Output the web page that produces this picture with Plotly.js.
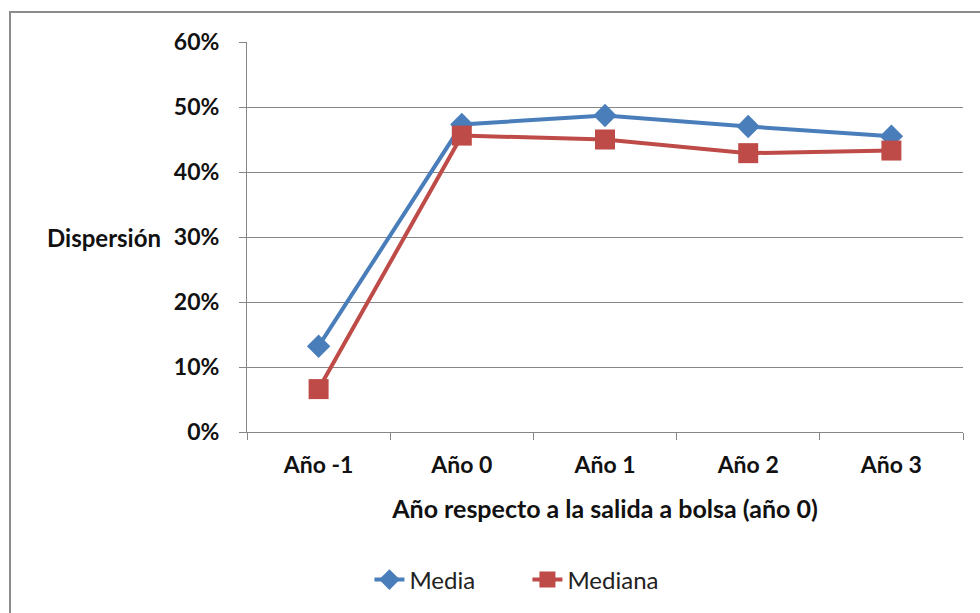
<!DOCTYPE html>
<html>
<head>
<meta charset="utf-8">
<script src="https://cdn.plot.ly/plotly-3.0.1.min.js"></script>
<style>
html,body{margin:0;padding:0;background:#fff;}
#chart{width:980px;height:613px;}
#frame{position:absolute;left:9px;top:11px;width:990px;height:620px;border:2px solid #8c8c8c;box-sizing:border-box;pointer-events:none;}
</style>
</head>
<body>
<div id="chart"></div>
<div id="frame"></div>
<script>
const categories = ["Año -1", "Año 0", "Año 1", "Año 2", "Año 3"];
const media = [0.132, 0.473, 0.487, 0.470, 0.455];
const mediana = [0.066, 0.456, 0.450, 0.429, 0.433];
const yTicks = [0, 0.1, 0.2, 0.3, 0.4, 0.5, 0.6];

const font = "Lato, 'Open Sans', sans-serif";

const traces = [
  {
    x: categories, y: media, name: "Media", type: "scatter", mode: "lines+markers",
    line: {color: "#4A7EBB", width: 4},
    marker: {symbol: "diamond", size: 18, color: "#4A7EBB"}
  },
  {
    x: categories, y: mediana, name: "Mediana", type: "scatter", mode: "lines+markers",
    line: {color: "#BE4B48", width: 4},
    marker: {symbol: "square", size: 20, color: "#BE4B48"}
  }
];

const layout = {
  width: 980, height: 613,
  margin: {l: 247, r: 17, t: 42, b: 180},
  paper_bgcolor: "#fff", plot_bgcolor: "#fff",
  showlegend: true,
  legend: {
    orientation: "h", x: 0.171, xanchor: "left", y: -0.376, yanchor: "middle",
    entrywidth: 113, entrywidthmode: "pixels",
    font: {family: font, size: 24, color: "#222"}
  },
  xaxis: {
    type: "category", range: [-0.5, 4.5],
    tickson: "boundaries", ticks: "outside", ticklen: 7, tickcolor: "#868686",
    ticklabelstandoff: 12,
    showgrid: false, showline: true, linecolor: "#868686", linewidth: 1,
    tickfont: {family: font, size: 23, color: "#111", weight: "bold"},
    title: {text: "Año respecto a la salida a bolsa (año 0)", standoff: 23,
            font: {family: font, size: 25, color: "#111", weight: "bold"}}
  },
  yaxis: {
    range: [0, 0.6], tickvals: yTicks, tickformat: ".0%",
    ticks: "outside", ticklen: 7, tickcolor: "#868686",
    ticklabelstandoff: 15,
    showgrid: true, gridcolor: "#868686", gridwidth: 1,
    showline: true, linecolor: "#868686", linewidth: 1, zeroline: false,
    tickfont: {family: font, size: 23, color: "#111", weight: "bold"}
  },
  annotations: [{
    text: "Dispersión", xref: "paper", yref: "paper",
    x: (163 - 247) / 716, y: (433 - 238) / 391, xanchor: "right", yanchor: "middle",
    showarrow: false, font: {family: font, size: 24, color: "#111", weight: "bold"}
  }]
};

Plotly.newPlot("chart", traces, layout, {displayModeBar: false, staticPlot: true});
</script>
</body>
</html>
